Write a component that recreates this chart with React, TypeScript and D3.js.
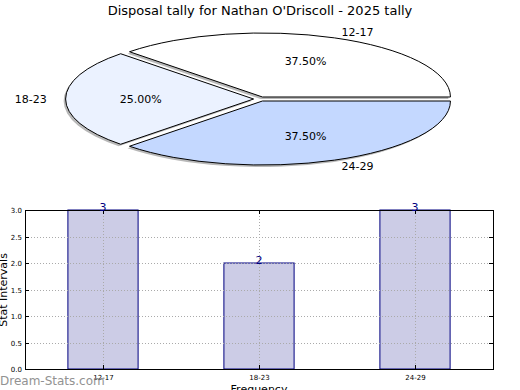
import React, {useEffect, useRef} from 'react';
import * as d3 from 'd3';

const W = 520;
const H = 390;
const FONT = 'DejaVu Sans, sans-serif';

// pie data
const pieLabels = ['12-17', '18-23', '24-29'];
const pieValues = [3, 2, 3];
const pieColors = ['#ffffff', '#ebf2ff', '#c4d8ff'];

// bar data
const barCategories = ['12-17', '18-23', '24-29'];
const barValues = [3, 2, 3];
const yTicks = [0, 0.5, 1, 1.5, 2, 2.5, 3];

const App = () => {
    const ref = useRef<SVGSVGElement>(null);

    useEffect(() => {
        const svg = d3.select(ref.current);
        svg.selectAll('*').remove();

        svg.append('rect').attr('width', W).attr('height', H).attr('fill', '#fff');

        svg.append('text')
            .attr('x', 260).attr('y', 15)
            .attr('text-anchor', 'middle')
            .attr('font-family', FONT).attr('font-size', 13)
            .text("Disposal tally for Nathan O'Driscoll - 2025 tally");

        // ---------- pie (squashed into an ellipse) ----------
        const cx = 260, cy = 99, rx = 188, ry = 64;
        const explode = 0.034;
        const sy = ry / rx;

        // matplotlib: start at 3 o'clock, counterclockwise
        const pie = d3.pie<number>().sort(null)
            .startAngle(Math.PI / 2).endAngle(Math.PI / 2 - 2 * Math.PI);
        const arcs = pie(pieValues);
        const arc = d3.arc<d3.PieArcDatum<number>>().innerRadius(0).outerRadius(rx);

        const g = svg.append('g').attr('transform', `translate(${cx},${cy}) scale(1,${sy})`);

        const off = (d: d3.PieArcDatum<number>) => {
            const m = (d.startAngle + d.endAngle) / 2;
            return [explode * rx * Math.sin(m), -explode * rx * Math.cos(m)];
        };

        // shadow
        g.selectAll('path.shadow')
            .data(arcs)
            .enter()
            .append('path')
            .attr('class', 'shadow')
            .attr('d', arc)
            .attr('fill', '#000')
            .attr('opacity', 0.28)
            .attr('transform', d => {
                const [ox, oy] = off(d);
                return `translate(${ox - 2},${oy + 2 / sy})`;
            });

        g.selectAll('path.slice')
            .data(arcs)
            .enter()
            .append('path')
            .attr('class', 'slice')
            .attr('d', arc)
            .attr('fill', (d, i) => pieColors[i])
            .attr('stroke', '#000')
            .attr('stroke-width', 1)
            .attr('vector-effect', 'non-scaling-stroke')
            .attr('transform', d => {
                const [ox, oy] = off(d);
                return `translate(${ox},${oy})`;
            });

        const total = d3.sum(pieValues);
        arcs.forEach((d, i) => {
            const m = (d.startAngle + d.endAngle) / 2;
            const [ox, oy] = off(d);
            const px = cx + ox, py = cy + oy * sy;
            const sx = Math.sin(m), cyy = -Math.cos(m);
            // label at 1.1 radius
            svg.append('text')
                .attr('x', px + 1.1 * rx * sx)
                .attr('y', py + 1.1 * ry * cyy)
                .attr('dy', '0.35em')
                .attr('text-anchor', sx > 0.01 ? 'start' : (sx < -0.01 ? 'end' : 'middle'))
                .attr('font-family', FONT).attr('font-size', 11)
                .text(pieLabels[i]);
            // percentage at 0.6 radius
            svg.append('text')
                .attr('x', px + 0.6 * rx * sx)
                .attr('y', py + 0.6 * ry * cyy)
                .attr('dy', '0.35em')
                .attr('text-anchor', 'middle')
                .attr('font-family', FONT).attr('font-size', 11)
                .text((pieValues[i] / total * 100).toFixed(2) + '%');
        });

        // ---------- bar chart ----------
        const left = 25, right = 493, top = 210, bottom = 369;
        const x = d3.scaleLinear().domain([-0.5, 2.5]).range([left, right]);
        const y = d3.scaleLinear().domain([0, 3]).range([bottom, top]);
        const bw = x(0.45) - x(0);

        const bars = svg.append('g');
        bars.selectAll('rect')
            .data(barValues)
            .enter()
            .append('rect')
            .attr('x', (d, i) => x(i) - bw / 2)
            .attr('y', d => y(d))
            .attr('width', bw)
            .attr('height', d => y(0) - y(d))
            .attr('fill', '#ccccE6')
            .attr('stroke', '#000080')
            .attr('stroke-width', 1);

        // grid on top
        const grid = svg.append('g')
            .attr('stroke', '#aaa').attr('stroke-width', 1).attr('stroke-dasharray', '1,2');
        yTicks.forEach(t => {
            grid.append('line')
                .attr('x1', left).attr('x2', right)
                .attr('y1', Math.round(y(t)) + 0.5).attr('y2', Math.round(y(t)) + 0.5);
        });
        barCategories.forEach((c, i) => {
            grid.append('line')
                .attr('x1', Math.round(x(i)) + 0.5).attr('x2', Math.round(x(i)) + 0.5)
                .attr('y1', top).attr('y2', bottom);
        });

        // frame
        svg.append('rect')
            .attr('x', left + 0.5).attr('y', top + 0.5)
            .attr('width', right - left).attr('height', bottom - top)
            .attr('fill', 'none').attr('stroke', '#000');

        // ticks (inward, both sides)
        const ticks = svg.append('g').attr('stroke', '#000');
        yTicks.forEach(t => {
            const yy = Math.round(y(t)) + 0.5;
            ticks.append('line').attr('x1', left).attr('x2', left + 4).attr('y1', yy).attr('y2', yy);
            ticks.append('line').attr('x1', right - 4).attr('x2', right).attr('y1', yy).attr('y2', yy);
            svg.append('text')
                .attr('x', left - 3).attr('y', yy)
                .attr('dy', '0.35em')
                .attr('text-anchor', 'end')
                .attr('font-family', FONT).attr('font-size', 7)
                .text(t.toFixed(1));
        });
        barCategories.forEach((c, i) => {
            const xx = Math.round(x(i)) + 0.5;
            ticks.append('line').attr('x1', xx).attr('x2', xx).attr('y1', bottom).attr('y2', bottom - 4);
            ticks.append('line').attr('x1', xx).attr('x2', xx).attr('y1', top).attr('y2', top + 4);
            svg.append('text')
                .attr('x', xx).attr('y', bottom + 11)
                .attr('text-anchor', 'middle')
                .attr('font-family', FONT).attr('font-size', 7)
                .text(c);
        });

        // value labels
        barValues.forEach((v, i) => {
            svg.append('text')
                .attr('x', x(i)).attr('y', y(v) + 1)
                .attr('text-anchor', 'middle')
                .attr('font-family', FONT).attr('font-size', 11)
                .attr('fill', '#000080')
                .text(String(v));
        });

        // axis labels
        svg.append('text')
            .attr('transform', `translate(7,290) rotate(-90)`)
            .attr('text-anchor', 'middle')
            .attr('font-family', FONT).attr('font-size', 11)
            .text('Stat Intervals');
        svg.append('text')
            .attr('x', 259).attr('y', 393)
            .attr('text-anchor', 'middle')
            .attr('font-family', FONT).attr('font-size', 11)
            .text('Frequency');

        // watermark
        svg.append('text')
            .attr('x', 0).attr('y', 385)
            .attr('font-family', FONT).attr('font-size', 12)
            .attr('fill', '#808080').attr('opacity', 0.85)
            .text('Dream-Stats.com');
    });

    return (
        <svg ref={ref} width={W} height={H} style={{position: 'absolute', left: 0, top: 0}} />
    );
};

export default App;
